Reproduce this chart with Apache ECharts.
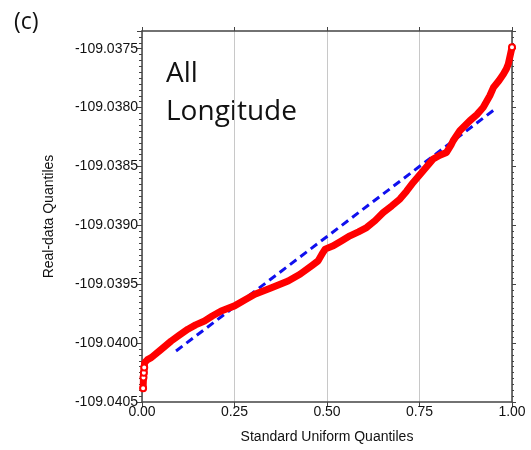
<!DOCTYPE html>
<html>
<head>
<meta charset="utf-8">
<script src="https://cdn.jsdelivr.net/npm/echarts@6/dist/echarts.min.js"></script>
<style>
  html, body { margin: 0; padding: 0; background: #fff; }
  #main { width: 531px; height: 450px; }
</style>
</head>
<body>
<div id="main"></div>
<script>
  // 读图得到的分位数（x：标准均匀分位数，y：经度实测分位数）
  var qx = [0.003, 0.004, 0.005, 0.006, 0.007, 0.015, 0.025, 0.05, 0.079, 0.10,
            0.124, 0.145, 0.169, 0.19, 0.214, 0.25, 0.28, 0.305, 0.35, 0.395,
            0.427, 0.46, 0.476, 0.481, 0.489, 0.495, 0.517, 0.54, 0.562, 0.585,
            0.607, 0.63, 0.652, 0.675, 0.697, 0.715, 0.733, 0.76, 0.787, 0.805,
            0.823, 0.835, 0.841, 0.859, 0.886, 0.905, 0.922, 0.94, 0.95, 0.965,
            0.977, 0.985, 0.99, 0.996, 1.0];
  var qy = [-109.040384, -109.040293, -109.040251, -109.040208, -109.040166, -109.040140, -109.040123, -109.040058, -109.039982, -109.039935,
            -109.039882, -109.039845, -109.039812, -109.039770, -109.039727, -109.039684, -109.039630, -109.039585, -109.039529, -109.039472,
            -109.039415, -109.039340, -109.039302, -109.039274, -109.039231, -109.039202, -109.039174, -109.039130, -109.039089, -109.039055,
            -109.039019, -109.038960, -109.038891, -109.038835, -109.038777, -109.038710, -109.038636, -109.038537, -109.038437, -109.038405,
            -109.038381, -109.038320, -109.038282, -109.038197, -109.038112, -109.038060, -109.037999, -109.037900, -109.037829, -109.037770,
            -109.037715, -109.037670, -109.037630, -109.037545, -109.037489];
  // 参考直线（蓝色虚线）两端
  var refX = [0.092, 0.951];
  var refY = [-109.040067, -109.038021];

  var yMin = -109.0405, yMax = -109.03735, yStep = 0.0005;

  var ptData = qx.map(function (x, i) { return [x, qy[i]]; });
  var refData = refX.map(function (x, i) { return [x, refY[i]]; });

  var myChart = echarts.init(document.getElementById('main'));

  var axisCol = '#444';
  var labelFont = { color: '#111', fontSize: 14, fontFamily: 'Liberation Sans, Arial, sans-serif' };

  var option = {
    backgroundColor: '#fff',
    animation: false,
    title: {
      text: '(c)',
      left: 9, top: 6,
      textStyle: { fontSize: 23, fontWeight: 'normal', color: '#111', fontFamily: 'Open Sans, sans-serif' }
    },
    graphic: [{
      type: 'text',
      left: 166, top: 55,
      style: {
        text: 'All\nLongitude',
        font: '28px "Open Sans", sans-serif',
        lineHeight: 38,
        fill: '#111'
      }
    }],
    grid: { left: 142, right: 19, top: 31, bottom: 48 },
    xAxis: [{
      type: 'value',
      min: 0, max: 1, interval: 0.25,
      name: 'Standard Uniform Quantiles',
      nameLocation: 'middle',
      nameGap: 28,
      nameTextStyle: labelFont,
      axisLine: { show: true, onZero: false, lineStyle: { color: axisCol, width: 1.5 } },
      axisTick: { show: true, length: 5, lineStyle: { color: axisCol } },
      axisLabel: Object.assign({ margin: 3, formatter: function (v) { return v.toFixed(2); } }, labelFont),
      splitLine: { show: true, lineStyle: { color: '#c8c8c8', width: 1 } }
    }, {
      type: 'value',
      position: 'top',
      min: 0, max: 1, interval: 0.25,
      axisLine: { show: true, onZero: false, lineStyle: { color: axisCol, width: 1.5 } },
      axisTick: { show: true, length: 4, lineStyle: { color: axisCol } },
      axisLabel: { show: false },
      splitLine: { show: false }
    }],
    yAxis: [{
      type: 'value',
      min: yMin, max: yMax, interval: yStep,
      name: 'Real-data Quantiles',
      nameLocation: 'middle',
      nameGap: 86,
      nameTextStyle: labelFont,
      axisLine: { show: true, onZero: false, lineStyle: { color: axisCol, width: 1.5 } },
      axisTick: { show: true, length: 5, lineStyle: { color: axisCol } },
      minorTick: { show: true, splitNumber: 10, length: 3, lineStyle: { color: axisCol } },
      axisLabel: Object.assign({ margin: 4, showMaxLabel: false, formatter: function (v) { return v.toFixed(4); } }, labelFont),
      splitLine: { show: false }
    }, {
      type: 'value',
      position: 'right',
      min: yMin, max: yMax, interval: yStep,
      axisLine: { show: true, onZero: false, lineStyle: { color: axisCol, width: 1.5 } },
      axisTick: { show: true, length: 4, lineStyle: { color: axisCol } },
      minorTick: { show: true, splitNumber: 10, length: 2, lineStyle: { color: axisCol } },
      axisLabel: { show: false },
      splitLine: { show: false }
    }],
    series: [{
      name: 'ref',
      type: 'line',
      data: refData,
      showSymbol: false,
      lineStyle: { color: '#1010ee', width: 3, type: [8, 5] },
      z: 3
    }, {
      name: 'quantiles',
      type: 'line',
      data: ptData,
      // 只在两端画出空心圆，其余部分由粗线表现密集的散点带
      symbol: function (v, p) {
        return (p.dataIndex < 4 || p.dataIndex === qx.length - 1) ? 'emptyCircle' : 'none';
      },
      symbolSize: 6,
      showSymbol: true,
      itemStyle: { color: '#ff0000', borderWidth: 1.2 },
      lineStyle: { color: '#ff0000', width: 7, cap: 'round', join: 'round' },
      z: 4
    }]
  };

  myChart.setOption(option);
</script>
</body>
</html>
